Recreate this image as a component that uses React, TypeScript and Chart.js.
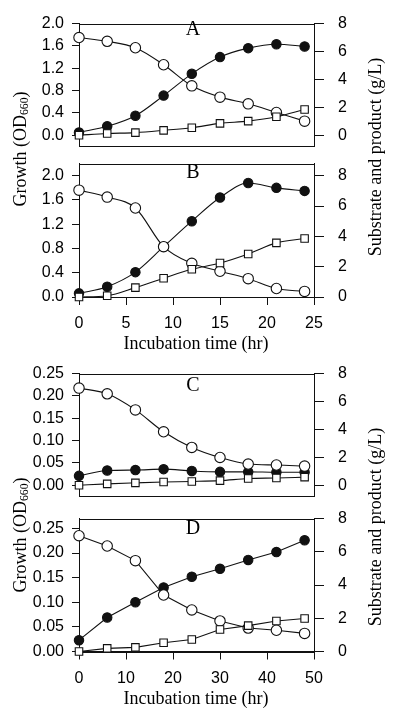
import React, { useEffect, useRef } from 'react';
import { Chart, registerables } from 'chart.js';

Chart.register(...registerables);

// ---- Data ----
const hoursAB = [0, 3, 6, 9, 12, 15, 18, 21, 24];
const growthA = [0.05, 0.16, 0.35, 0.71, 1.10, 1.40, 1.56, 1.63, 1.59];
const substrateA = [7.0, 6.73, 6.27, 5.05, 3.54, 2.73, 2.25, 1.63, 1.01];
const productA = [0.0, 0.12, 0.19, 0.35, 0.54, 0.85, 1.01, 1.32, 1.84];

const growthB = [0.06, 0.17, 0.41, 0.83, 1.25, 1.64, 1.88, 1.80, 1.75];
const substrateB = [7.05, 6.59, 5.87, 3.32, 2.22, 1.70, 1.21, 0.56, 0.37];
const productB = [0.0, 0.08, 0.62, 1.24, 1.83, 2.24, 2.84, 3.57, 3.86];

const hoursCD = [0, 6, 12, 18, 24, 30, 36, 42, 48];
const growthC = [0.021, 0.033, 0.034, 0.036, 0.032, 0.030, 0.030, 0.029, 0.029];
const substrateC = [6.96, 6.55, 5.40, 3.83, 2.71, 1.99, 1.52, 1.45, 1.37];
const productC = [0.0, 0.10, 0.17, 0.23, 0.27, 0.33, 0.48, 0.52, 0.58];

const growthD = [0.023, 0.069, 0.100, 0.130, 0.152, 0.168, 0.186, 0.202, 0.226];
const substrateD = [6.97, 6.35, 5.47, 3.40, 2.50, 1.84, 1.41, 1.28, 1.09];
const productD = [0.0, 0.19, 0.25, 0.53, 0.72, 1.32, 1.56, 1.84, 1.99];

// ---- Tick labels ----
const xTicksAB = [0, 5, 10, 15, 20, 25];
const xTicksCD = [0, 10, 20, 30, 40, 50];
const growthTicksAB = [0, 0.4, 0.8, 1.2, 1.6, 2.0];
const growthTicksCD = [0, 0.05, 0.10, 0.15, 0.20, 0.25];
const substrateTicks = [0, 2, 4, 6, 8];

const panelLetters = ['A', 'B', 'C', 'D'];
const xTitle = 'Incubation time (hr)';
const rightTitle = 'Substrate and product (g/L)';

const TICK_FONT = { family: '"Liberation Sans", Arial, sans-serif', size: 16 };
const SERIF = '"Liberation Serif", "Times New Roman", serif';
const INK = '#111';

type Panel = {
  top: number;
  height: number;
  padTop: number;
  padBottom: number;
  xAxisHeight: number | null;
  hours: number[];
  xMax: number;
  xTicks: number[];
  growth: number[];
  substrate: number[];
  product: number[];
  leftMin: number;
  leftMax: number;
  leftTicks: number[];
  leftDecimals: number;
  rightMin: number;
  rightMax: number;
  curved: boolean;
};

const panels: Panel[] = [
  { top: 0, height: 170, padTop: 14, padBottom: 14.5, xAxisHeight: null, hours: hoursAB, xMax: 25, xTicks: xTicksAB,
    growth: growthA, substrate: substrateA, product: productA, leftMin: -0.2, leftMax: 2.0, leftTicks: growthTicksAB,
    leftDecimals: 1, rightMin: -0.8, rightMax: 8, curved: true },
  { top: 140, height: 215, padTop: 15.5, padBottom: 0, xAxisHeight: 58, hours: hoursAB, xMax: 25, xTicks: xTicksAB,
    growth: growthB, substrate: substrateB, product: productB, leftMin: 0, leftMax: 2.2, leftTicks: growthTicksAB,
    leftDecimals: 1, rightMin: 0, rightMax: 8.8, curved: true },
  { top: 350, height: 170, padTop: 18, padBottom: 10, xAxisHeight: null, hours: hoursCD, xMax: 50, xTicks: xTicksCD,
    growth: growthC, substrate: substrateC, product: productC, leftMin: -0.025, leftMax: 0.25, leftTicks: growthTicksCD,
    leftDecimals: 2, rightMin: -0.8, rightMax: 8, curved: true },
  { top: 495, height: 200, padTop: 15, padBottom: 0, xAxisHeight: 43.5, hours: hoursCD, xMax: 50, xTicks: xTicksCD,
    growth: growthD, substrate: substrateD, product: productD, leftMin: 0, leftMax: 0.27, leftTicks: growthTicksCD,
    leftDecimals: 2, rightMin: 0, rightMax: 8, curved: false },
];

const framePlugin = {
  id: 'frame',
  beforeDatasetsDraw(chart: any) {
    const { ctx, chartArea } = chart;
    const l = Math.round(chartArea.left) + 0.5;
    const r = Math.round(chartArea.right) + 0.5;
    const t = Math.round(chartArea.top) + 0.5;
    const b = Math.round(chartArea.bottom) + 0.5;
    ctx.save();
    ctx.strokeStyle = INK;
    ctx.lineWidth = 1;
    ctx.strokeRect(l, t, r - l, b - t);
    ctx.restore();
  },
};

function PanelChart({ p }: { p: Panel }) {
  const ref = useRef<HTMLCanvasElement | null>(null);
  useEffect(() => {
    if (!ref.current) return;
    const pts = (xs: number[], ys: number[]) => xs.map((x, i) => ({ x, y: ys[i] }));
    const common = {
      borderColor: INK,
      borderWidth: 1.1,
      pointBorderColor: INK,
      pointBorderWidth: 1.1,
      clip: false as any,
      cubicInterpolationMode: p.curved ? 'monotone' : 'default',
      tension: 0,
    };
    const chart = new Chart(ref.current, {
      type: 'line',
      data: {
        datasets: [
          { ...common, label: 'product', data: pts(p.hours, p.product), yAxisID: 'yR',
            pointStyle: 'rect', pointRadius: 5.3, pointBackgroundColor: '#fff' },
          { ...common, label: 'substrate', data: pts(p.hours, p.substrate), yAxisID: 'yR',
            pointStyle: 'circle', pointRadius: 5.2, pointBackgroundColor: '#fff' },
          { ...common, label: 'growth', data: pts(p.hours, p.growth), yAxisID: 'yL',
            pointStyle: 'circle', pointRadius: 4.7, pointBackgroundColor: INK },
        ] as any,
      },
      options: {
        responsive: false,
        maintainAspectRatio: false,
        animation: false,
        devicePixelRatio: 1,
        events: [],
        layout: { padding: { top: p.padTop, bottom: p.padBottom, left: 0, right: 0 } },
        plugins: { legend: { display: false }, tooltip: { enabled: false }, title: { display: false } },
        scales: {
          x: {
            type: 'linear',
            display: p.xAxisHeight !== null,
            min: 0,
            max: p.xMax,
            afterBuildTicks: (s: any) => { s.ticks = p.xTicks.map((v) => ({ value: v })); },
            afterFit: (s: any) => { if (p.xAxisHeight !== null) s.height = p.xAxisHeight; },
            grid: { display: true, drawOnChartArea: false, drawTicks: true, tickLength: 8, color: INK },
            border: { display: true, color: INK },
            ticks: { font: TICK_FONT, color: '#000', padding: 9, maxRotation: 0, autoSkip: false,
              callback: (v: any) => String(v) },
          },
          yL: {
            type: 'linear',
            position: 'left',
            min: p.leftMin,
            max: p.leftMax,
            afterBuildTicks: (s: any) => { s.ticks = p.leftTicks.map((v) => ({ value: v })); },
            afterFit: (s: any) => { s.width = 79; },
            grid: { display: true, drawOnChartArea: false, drawTicks: true, tickLength: 7, color: INK },
            border: { display: true, color: INK },
            ticks: { font: TICK_FONT, color: '#000', padding: 8, autoSkip: false,
              callback: (v: any) => Number(v).toFixed(p.leftDecimals) },
          },
          yR: {
            type: 'linear',
            position: 'right',
            min: p.rightMin,
            max: p.rightMax,
            afterBuildTicks: (s: any) => { s.ticks = substrateTicks.map((v) => ({ value: v })); },
            afterFit: (s: any) => { s.width = 86; },
            grid: { display: true, drawOnChartArea: false, drawTicks: true, tickLength: 10, color: INK },
            border: { display: true, color: INK },
            ticks: { font: TICK_FONT, color: '#000', padding: 14, autoSkip: false,
              callback: (v: any) => String(v) },
          },
        },
      } as any,
      plugins: [framePlugin],
    });
    return () => chart.destroy();
  }, [p]);
  return (
    <canvas
      ref={ref}
      width={400}
      height={p.height}
      style={{ position: 'absolute', left: 0, top: p.top, width: 400, height: p.height }}
    />
  );
}

function Label({ x, y, rotate, size, children }: { x: number; y: number; rotate?: boolean; size: number; children: any }) {
  return (
    <div
      style={{
        position: 'absolute',
        left: x,
        top: y,
        transform: `translate(-50%, -50%)${rotate ? ' rotate(-90deg)' : ''}`,
        fontFamily: SERIF,
        fontSize: size,
        lineHeight: 1,
        whiteSpace: 'nowrap',
        color: '#000',
      }}
    >
      {children}
    </div>
  );
}

const growthTitle = (
  <span>
    Growth (OD<sub style={{ fontSize: '0.65em', verticalAlign: '-0.15em' }}>660</sub>)
  </span>
);

export default function App() {
  return (
    <div style={{ position: 'absolute', left: 0, top: 0, width: 400, height: 718, background: '#fff', overflow: 'hidden' }}>
      {panels.map((p, i) => (
        <PanelChart key={i} p={p} />
      ))}
      <Label x={193} y={28} size={20}>{panelLetters[0]}</Label>
      <Label x={193} y={171} size={20}>{panelLetters[1]}</Label>
      <Label x={193} y={383.5} size={20}>{panelLetters[2]}</Label>
      <Label x={193} y={526.5} size={20}>{panelLetters[3]}</Label>
      <Label x={196} y={343} size={18}>{xTitle}</Label>
      <Label x={196} y={698} size={18}>{xTitle}</Label>
      <Label x={21} y={149} size={18} rotate>{growthTitle}</Label>
      <Label x={21} y={535} size={18} rotate>{growthTitle}</Label>
      <Label x={375} y={157} size={18} rotate>{rightTitle}</Label>
      <Label x={375} y={527} size={18} rotate>{rightTitle}</Label>
    </div>
  );
}
